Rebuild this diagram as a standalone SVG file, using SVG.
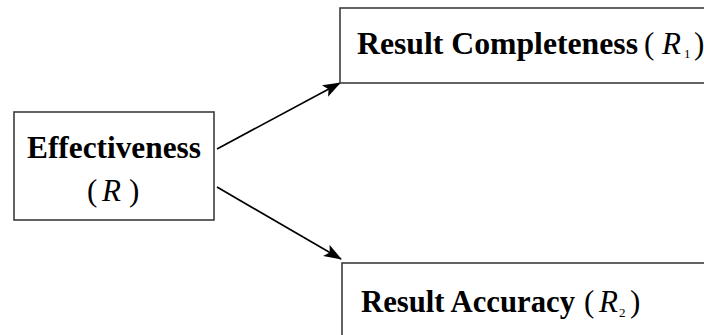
<svg xmlns="http://www.w3.org/2000/svg" width="704" height="335" viewBox="0 0 704 335">
  <style>
    .box { fill: #ffffff; stroke: #3c3c3c; stroke-width: 1.6; }
    .edge { fill: none; stroke: #000000; stroke-width: 1.7; marker-end: url(#arrow); }
    .lbl { font-family: "Liberation Serif", "Times New Roman", serif; font-size: 31px; fill: #000000; }
    .b { font-weight: bold; }
    .i { font-style: italic; }
    .sub { font-family: "Liberation Serif", "Times New Roman", serif; font-size: 13px; fill: #000000; }
  </style>
  <defs>
    <marker id="arrow" markerWidth="18" markerHeight="13" refX="17" refY="6.5" orient="auto" markerUnits="userSpaceOnUse">
      <path d="M0,0 L18,6.5 L0,13 L4,6.5 Z" fill="#000000"/>
    </marker>
  </defs>
  <rect width="704" height="335" fill="#ffffff"/>

  <g id="connectors">
    <line class="edge" x1="217" y1="149" x2="340" y2="83"/>
    <line class="edge" x1="217" y1="187" x2="341" y2="259"/>
  </g>

  <g id="effectiveness">
    <rect class="box" x="14" y="112" width="200" height="108"/>
    <text class="lbl b" x="27" y="158" textLength="174" lengthAdjust="spacingAndGlyphs">Effectiveness</text>
    <text class="lbl" x="87" y="201">(</text>
    <text class="lbl i" x="102" y="201">R</text>
    <text class="lbl" x="129" y="201">)</text>
  </g>

  <g id="completeness">
    <rect class="box" x="340" y="8" width="400" height="75"/>
    <text class="lbl b" x="357" y="54" textLength="281" lengthAdjust="spacingAndGlyphs">Result Completeness</text>
    <text class="lbl" x="644" y="54">(</text>
    <text class="lbl i" x="662" y="54">R</text>
    <text class="sub" x="684" y="58">1</text>
    <text class="lbl" x="694" y="54">)</text>
  </g>

  <g id="accuracy">
    <rect class="box" x="342" y="263" width="400" height="100"/>
    <text class="lbl b" x="361" y="312" textLength="214" lengthAdjust="spacingAndGlyphs">Result Accuracy</text>
    <text class="lbl" x="584" y="312">(</text>
    <text class="lbl i" x="599" y="312">R</text>
    <text class="sub" x="619" y="317">2</text>
    <text class="lbl" x="630" y="312">)</text>
  </g>
</svg>
